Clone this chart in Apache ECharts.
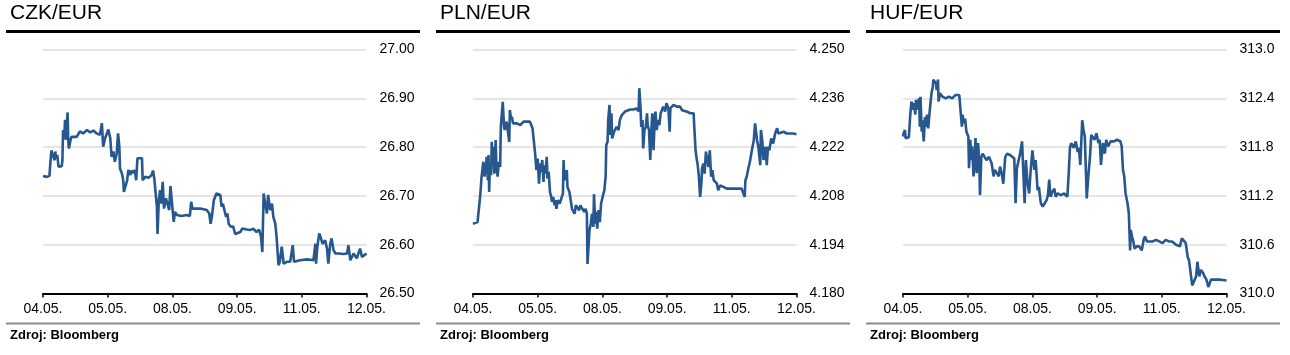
<!DOCTYPE html>
<html><head><meta charset="utf-8">
<script src="https://cdn.jsdelivr.net/npm/echarts@6/dist/echarts.min.js"></script>
<style>html,body{margin:0;padding:0;background:#fff}#c{width:1290px;height:355px}</style>
</head><body><div id="c"></div>
<script>
const titles = ['CZK/EUR', 'PLN/EUR', 'HUF/EUR'];
const dateLabels = ['04.05.', '05.05.', '08.05.', '09.05.', '11.05.', '12.05.'];
const source = 'Zdroj: Bloomberg';

const czkTicks = [26.50, 26.60, 26.70, 26.80, 26.90, 27.00];
const plnTicks = [4.180, 4.194, 4.208, 4.222, 4.236, 4.250];
const hufTicks = [310.0, 310.6, 311.2, 311.8, 312.4, 313.0];

// [day index (fractional), rate]
const czk = [[0,26.741],[0.06,26.739],[0.08,26.737],[0.10,26.741],[0.11,26.761],[0.12,26.763],[0.13,26.793],[0.16,26.791],[0.18,26.773],[0.19,26.791],[0.20,26.777],[0.22,26.784],[0.24,26.760],[0.26,26.756],[0.29,26.761],[0.30,26.773],[0.31,26.835],[0.33,26.818],[0.34,26.856],[0.35,26.815],[0.37,26.849],[0.38,26.871],[0.39,26.815],[0.40,26.797],[0.42,26.811],[0.44,26.821],[0.47,26.825],[0.52,26.821],[0.57,26.832],[0.62,26.828],[0.68,26.835],[0.73,26.830],[0.78,26.834],[0.83,26.828],[0.88,26.825],[0.91,26.849],[0.92,26.825],[0.93,26.801],[0.96,26.818],[0.98,26.821],[1.01,26.836],[1.04,26.818],[1.06,26.780],[1.09,26.791],[1.11,26.770],[1.14,26.787],[1.16,26.828],[1.18,26.801],[1.19,26.756],[1.22,26.746],[1.24,26.732],[1.25,26.708],[1.28,26.706],[1.30,26.732],[1.32,26.753],[1.35,26.743],[1.37,26.752],[1.40,26.747],[1.42,26.753],[1.44,26.732],[1.46,26.777],[1.53,26.777],[1.54,26.732],[1.58,26.739],[1.63,26.737],[1.68,26.743],[1.70,26.752],[1.72,26.736],[1.74,26.732],[1.76,26.678],[1.77,26.622],[1.79,26.691],[1.81,26.712],[1.83,26.684],[1.85,26.729],[1.87,26.674],[1.90,26.695],[1.93,26.681],[1.95,26.671],[1.97,26.720],[1.99,26.691],[2.02,26.647],[2.04,26.667],[2.07,26.661],[2.14,26.659],[2.22,26.661],[2.27,26.659],[2.29,26.688],[2.31,26.674],[2.43,26.674],[2.53,26.671],[2.57,26.664],[2.59,26.643],[2.61,26.657],[2.64,26.691],[2.68,26.705],[2.71,26.702],[2.74,26.702],[2.76,26.678],[2.78,26.684],[2.80,26.681],[2.83,26.657],[2.85,26.664],[2.87,26.643],[2.90,26.637],[2.94,26.637],[2.97,26.622],[3.00,26.620],[3.05,26.626],[3.08,26.633],[3.15,26.631],[3.20,26.630],[3.25,26.633],[3.30,26.626],[3.34,26.631],[3.37,26.616],[3.39,26.585],[3.41,26.705],[3.43,26.702],[3.46,26.664],[3.48,26.702],[3.51,26.671],[3.54,26.684],[3.56,26.657],[3.59,26.643],[3.61,26.616],[3.64,26.558],[3.66,26.565],[3.69,26.596],[3.72,26.561],[3.77,26.565],[3.82,26.565],[3.86,26.599],[3.88,26.565],[3.97,26.568],[4.08,26.570],[4.18,26.568],[4.21,26.602],[4.22,26.561],[4.24,26.596],[4.27,26.623],[4.29,26.616],[4.32,26.602],[4.36,26.609],[4.39,26.592],[4.41,26.561],[4.44,26.602],[4.46,26.613],[4.49,26.589],[4.52,26.582],[4.57,26.582],[4.64,26.581],[4.70,26.582],[4.72,26.599],[4.75,26.568],[4.80,26.582],[4.85,26.572],[4.90,26.592],[4.93,26.575],[5.00,26.582]];

const pln = [[0,4.2000],[0.03,4.1998],[0.07,4.2005],[0.09,4.2010],[0.11,4.2077],[0.12,4.2101],[0.13,4.2130],[0.15,4.2135],[0.16,4.2178],[0.18,4.2135],[0.19,4.2173],[0.20,4.2144],[0.21,4.2192],[0.23,4.2125],[0.24,4.2197],[0.25,4.2091],[0.26,4.2163],[0.28,4.2139],[0.29,4.2235],[0.30,4.2173],[0.31,4.2221],[0.33,4.2144],[0.35,4.2240],[0.36,4.2173],[0.38,4.2135],[0.40,4.2178],[0.42,4.2163],[0.43,4.2278],[0.45,4.2283],[0.46,4.2350],[0.48,4.2278],[0.49,4.2269],[0.52,4.2293],[0.54,4.2264],[0.56,4.2235],[0.57,4.2326],[0.59,4.2298],[0.60,4.2307],[0.62,4.2288],[0.65,4.2283],[0.68,4.2288],[0.73,4.2283],[0.78,4.2293],[0.83,4.2293],[0.88,4.2293],[0.91,4.2288],[0.92,4.2274],[0.94,4.2269],[0.96,4.2202],[0.97,4.2197],[0.98,4.2154],[1.00,4.2187],[1.02,4.2115],[1.04,4.2173],[1.05,4.2149],[1.07,4.2183],[1.09,4.2120],[1.10,4.2168],[1.12,4.2144],[1.14,4.2192],[1.15,4.2130],[1.17,4.2149],[1.19,4.2091],[1.21,4.2077],[1.22,4.2063],[1.24,4.2077],[1.26,4.2053],[1.27,4.2068],[1.29,4.2043],[1.31,4.2068],[1.34,4.2058],[1.36,4.2063],[1.39,4.2087],[1.40,4.2183],[1.41,4.2125],[1.43,4.2135],[1.45,4.2154],[1.46,4.2106],[1.49,4.2091],[1.51,4.2068],[1.53,4.2043],[1.55,4.2048],[1.57,4.2029],[1.59,4.2053],[1.61,4.2058],[1.64,4.2039],[1.66,4.2053],[1.69,4.2043],[1.72,4.2034],[1.74,4.2043],[1.76,4.2029],[1.77,4.1885],[1.79,4.1880],[1.80,4.1981],[1.82,4.2000],[1.84,4.2029],[1.86,4.1991],[1.87,4.2085],[1.89,4.2000],[1.90,4.2034],[1.92,4.1986],[1.94,4.2039],[1.96,4.2005],[1.98,4.2058],[2.01,4.2082],[2.03,4.2096],[2.05,4.2135],[2.06,4.2226],[2.08,4.2235],[2.09,4.2298],[2.11,4.2341],[2.12,4.2255],[2.14,4.2317],[2.15,4.2245],[2.18,4.2264],[2.20,4.2269],[2.22,4.2278],[2.25,4.2269],[2.27,4.2298],[2.30,4.2312],[2.32,4.2317],[2.35,4.2322],[2.38,4.2326],[2.43,4.2328],[2.48,4.2328],[2.53,4.2331],[2.56,4.2322],[2.57,4.2389],[2.59,4.2331],[2.60,4.2278],[2.62,4.2298],[2.63,4.2216],[2.65,4.2269],[2.67,4.2278],[2.69,4.2317],[2.70,4.2283],[2.72,4.2269],[2.74,4.2183],[2.75,4.2240],[2.77,4.2317],[2.79,4.2211],[2.81,4.2307],[2.82,4.2322],[2.84,4.2269],[2.86,4.2298],[2.88,4.2283],[2.90,4.2317],[2.92,4.2326],[2.94,4.2336],[2.97,4.2322],[2.99,4.2346],[3.02,4.2331],[3.04,4.2264],[3.05,4.2331],[3.07,4.2331],[3.10,4.2341],[3.15,4.2336],[3.20,4.2336],[3.23,4.2326],[3.25,4.2322],[3.30,4.2322],[3.36,4.2317],[3.41,4.2317],[3.42,4.2278],[3.44,4.2211],[3.46,4.2183],[3.47,4.2173],[3.49,4.2139],[3.51,4.2077],[3.53,4.2115],[3.54,4.2159],[3.56,4.2173],[3.58,4.2144],[3.60,4.2207],[3.62,4.2183],[3.64,4.2163],[3.66,4.2211],[3.68,4.2135],[3.70,4.2154],[3.72,4.2125],[3.74,4.2125],[3.77,4.2115],[3.79,4.2096],[3.82,4.2110],[3.87,4.2106],[3.92,4.2101],[3.97,4.2101],[4.08,4.2101],[4.15,4.2101],[4.18,4.2106],[4.20,4.2077],[4.21,4.2125],[4.23,4.2135],[4.26,4.2163],[4.28,4.2178],[4.31,4.2211],[4.34,4.2240],[4.36,4.2288],[4.39,4.2240],[4.41,4.2221],[4.44,4.2168],[4.45,4.2269],[4.47,4.2240],[4.49,4.2183],[4.52,4.2221],[4.54,4.2168],[4.56,4.2221],[4.58,4.2211],[4.61,4.2245],[4.64,4.2230],[4.67,4.2259],[4.70,4.2274],[4.72,4.2259],[4.75,4.2259],[4.80,4.2264],[4.85,4.2259],[4.90,4.2259],[4.95,4.2259],[5.00,4.2257]];

const huf = [[0,311.93],[0.01,311.97],[0.03,312.01],[0.04,311.91],[0.07,311.90],[0.09,311.92],[0.11,312.17],[0.12,312.15],[0.13,312.36],[0.14,312.38],[0.16,312.26],[0.17,312.34],[0.19,312.20],[0.20,312.38],[0.21,312.26],[0.23,312.34],[0.25,312.40],[0.26,312.05],[0.27,312.42],[0.29,311.99],[0.30,312.13],[0.32,311.87],[0.34,312.17],[0.35,312.05],[0.37,312.20],[0.39,312.03],[0.41,312.22],[0.43,312.22],[0.44,312.46],[0.46,312.54],[0.47,312.63],[0.49,312.65],[0.51,312.58],[0.52,312.50],[0.54,312.63],[0.55,312.36],[0.57,312.46],[0.61,312.42],[0.66,312.40],[0.71,312.42],[0.76,312.40],[0.81,312.44],[0.87,312.44],[0.89,312.42],[0.91,312.05],[0.92,312.20],[0.94,312.09],[0.96,312.15],[0.98,311.99],[1.01,311.93],[1.02,311.54],[1.04,311.89],[1.06,311.64],[1.07,311.81],[1.09,311.44],[1.11,311.66],[1.12,311.91],[1.14,311.48],[1.16,311.85],[1.18,311.60],[1.19,311.21],[1.21,311.68],[1.23,311.72],[1.26,311.70],[1.29,311.64],[1.33,311.68],[1.37,311.60],[1.40,311.44],[1.42,311.52],[1.45,311.54],[1.48,311.44],[1.50,311.56],[1.53,311.46],[1.55,311.35],[1.58,311.68],[1.61,311.72],[1.66,311.70],[1.72,311.66],[1.74,311.11],[1.76,311.54],[1.78,311.52],[1.81,311.72],[1.84,311.87],[1.86,311.89],[1.88,311.11],[1.90,311.64],[1.92,311.40],[1.95,311.23],[1.97,311.48],[2.00,311.76],[2.03,311.52],[2.05,311.64],[2.08,311.27],[2.10,311.31],[2.13,311.11],[2.16,311.07],[2.19,311.11],[2.22,311.15],[2.24,311.21],[2.26,311.40],[2.28,311.19],[2.31,311.25],[2.34,311.29],[2.36,311.19],[2.39,311.23],[2.44,311.21],[2.49,311.23],[2.54,311.19],[2.56,311.46],[2.58,311.79],[2.60,311.85],[2.64,311.79],[2.67,311.87],[2.70,311.74],[2.72,311.79],[2.74,311.58],[2.75,311.76],[2.77,312.13],[2.79,312.01],[2.81,311.93],[2.84,311.17],[2.86,311.40],[2.87,311.40],[2.89,311.68],[2.91,311.95],[2.94,311.93],[2.96,311.89],[2.99,311.97],[3.02,311.85],[3.04,311.89],[3.06,311.58],[3.09,311.85],[3.12,311.72],[3.14,311.89],[3.17,311.81],[3.21,311.87],[3.26,311.87],[3.31,311.89],[3.36,311.87],[3.38,311.81],[3.40,311.52],[3.42,311.44],[3.44,311.23],[3.47,311.11],[3.49,310.99],[3.51,310.53],[3.52,310.78],[3.54,310.70],[3.56,310.64],[3.58,310.55],[3.61,310.58],[3.65,310.58],[3.69,310.53],[3.72,310.66],[3.74,310.70],[3.77,310.64],[3.80,310.64],[3.86,310.64],[3.91,310.66],[3.96,310.64],[4.01,310.62],[4.06,310.66],[4.11,310.64],[4.16,310.64],[4.22,310.60],[4.25,310.58],[4.28,310.58],[4.31,310.68],[4.34,310.70],[4.37,310.62],[4.40,310.45],[4.42,310.41],[4.45,310.39],[4.47,310.10],[4.50,310.08],[4.53,310.21],[4.55,310.39],[4.58,310.21],[4.60,310.29],[4.64,310.25],[4.66,310.21],[4.69,310.17],[4.72,310.08],[4.74,310.08],[4.76,310.17],[4.78,310.15],[4.84,310.17],[4.91,310.17],[5.00,310.16]];

const panels = [
  {data: czk, ticks: czkTicks, dec: 2},
  {data: pln, ticks: plnTicks, dec: 3},
  {data: huf, ticks: hufTicks, dec: 1}
];
const FONT = '"Liberation Sans", Arial, sans-serif';
const LINE = '#26578f';
const PW = 430;

const option = {
  animation: false,
  backgroundColor: '#fff',
  title: titles.map((t, i) => ({
    text: t, left: 10 + i * PW, top: 3, padding: 0,
    textStyle: {fontFamily: FONT, fontSize: 21, fontWeight: 'normal', color: '#000'}
  })),
  grid: panels.map((p, i) => ({left: 43 + i * PW, top: 49.5, width: 323.5, height: 244, containLabel: false})),
  xAxis: panels.map((p, i) => ({
    type: 'value', gridIndex: i, min: 0, max: 5, interval: 1,
    axisLine: {show: true, onZero: false, lineStyle: {color: '#000', width: 2}},
    axisTick: {show: true, length: 4, lineStyle: {color: '#000', width: 1.5}},
    splitLine: {show: false},
    axisLabel: {show: true, margin: 9, fontFamily: FONT, fontSize: 14, color: '#000',
      formatter: v => dateLabels[Math.round(v)] || ''}
  })),
  yAxis: panels.map((p, i) => ({
    type: 'value', gridIndex: i, position: 'right',
    min: p.ticks[0], max: p.ticks[p.ticks.length - 1],
    axisLine: {show: false},
    axisTick: {show: false, customValues: p.ticks},
    splitLine: {show: true, lineStyle: {color: '#dcdcdc', width: 1.5}},
    axisLabel: {show: true, margin: 13, fontFamily: FONT, fontSize: 14, color: '#000',
      customValues: p.ticks, formatter: v => Number(v).toFixed(p.dec)}
  })),
  series: panels.map((p, i) => ({
    type: 'line', xAxisIndex: i, yAxisIndex: i, data: p.data,
    showSymbol: false, symbol: 'none', smooth: false,
    lineStyle: {color: LINE, width: 2.6}
  })),
  graphic: [].concat(...panels.map((p, i) => [
    {type: 'rect', shape: {x: 6 + i * PW, y: 30, width: 414, height: 3}, style: {fill: '#000'}, silent: true},
    {type: 'rect', shape: {x: 6 + i * PW, y: 322.5, width: 414, height: 2}, style: {fill: '#8c8c8c'}, silent: true},
    {type: 'text', x: 10 + i * PW, y: 329, style: {text: source, font: 'bold 13px ' + FONT, fill: '#000'}, silent: true}
  ]))
};
echarts.init(document.getElementById('c'), null, {renderer: 'canvas'}).setOption(option);
</script></body></html>
